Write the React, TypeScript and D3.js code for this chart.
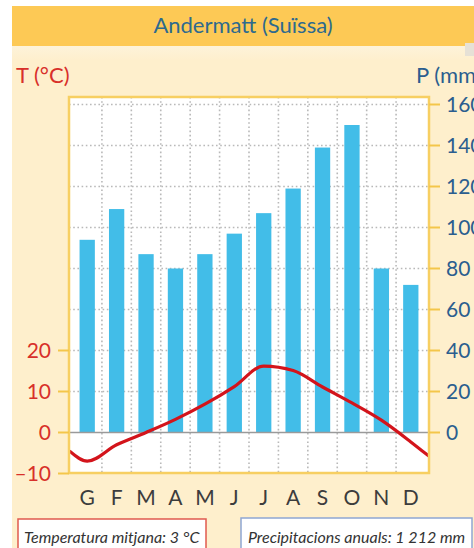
import React from "react";
import * as d3 from "d3";

const months = ["G", "F", "M", "A", "M", "J", "J", "A", "S", "O", "N", "D"];
const precipitation = [94, 109, 87, 80, 87, 97, 107, 119, 139, 150, 80, 72];
const temperature = [-7, -3, 0, 3.2, 6.9, 11.2, 16.2, 15.1, 11.1, 7.2, 3, -2.3];
const tempEdges = [-4.6, -5.6];
const precipTicks = [0, 20, 40, 60, 80, 100, 120, 140, 160];
const tempTicks = [-10, 0, 10, 20];
const title = "Andermatt (Suïssa)";
const tempLegend = "Temperatura mitjana: 3 °C";
const precipLegend = "Precipitacions anuals: 1 212 mm";

const W = 474;
const H = 548;
const plot = { left: 69, right: 429, top: 97, bottom: 473 };
const FONT = "Lato, 'Open Sans', sans-serif";

export default function App() {
  const x = d3
    .scaleBand<number>()
    .domain(months.map((_, i) => i))
    .range([72.5, 425.5])
    .paddingInner(0.48)
    .paddingOuter(0.24);
  const step = x.step();
  const yP = d3.scaleLinear().domain([0, 160]).range([432.5, 104.5]);
  const yT = d3.scaleLinear().domain([-10, 20]).range([473.5, 350.5]);

  const cx = (i: number) => (x(i) as number) + x.bandwidth() / 2;
  const boundaries = months.slice(1).map((_, i) => (x(i) as number) + x.bandwidth() + (step - x.bandwidth()) / 2);

  const pts: [number, number][] = [
    [plot.left + 1, yT(tempEdges[0])],
    ...temperature.map((t, i) => [cx(i), yT(t)] as [number, number]),
    [plot.right - 1, yT(tempEdges[1])],
  ];
  const line = d3.line().curve(d3.curveMonotoneX)(pts) || "";

  const gridColor = "#b9b9b9";
  const tickColor = "#f4c64a";

  return (
    <svg width={W} height={H} style={{ position: "absolute", left: 0, top: 0 }} fontFamily={FONT}>
      <defs>
        <linearGradient id="strip" x1="0" y1="0" x2="0" y2="1">
          <stop offset="0" stopColor="#fdf3da" />
          <stop offset="1" stopColor="#feefcd" />
        </linearGradient>
      </defs>
      <rect x={0} y={0} width={W} height={H} fill="#ffffff" />
      <rect x={12} y={6} width={W - 12} height={H - 6} fill="#feefcc" />
      <rect x={12} y={46} width={W - 12} height={14} fill="url(#strip)" />
      <rect x={12} y={6} width={W - 12} height={40} fill="#fdc955" />
      <rect x={465} y={43} width={9} height={13} fill="#e6e1d6" />
      <text x={243} y={33} textAnchor="middle" fontSize={22} fill="#2e6a8e">
        {title}
      </text>

      <text x={16} y={83} fontSize={22} fill="#d8302a">
        T (°C)
      </text>
      <text x={416} y={83} fontSize={22} fill="#2b5e8f">
        P (mm)
      </text>

      <rect
        x={plot.left}
        y={plot.top}
        width={plot.right - plot.left}
        height={plot.bottom - plot.top}
        fill="#ffffff"
      />

      {precipTicks.slice(1).map((v) => (
        <line
          key={"hg" + v}
          x1={plot.left}
          x2={plot.right}
          y1={yP(v)}
          y2={yP(v)}
          stroke={gridColor}
          strokeWidth={1.6}
          strokeDasharray="1.6 2.6"
        />
      ))}
      {boundaries.map((bx, i) => (
        <line
          key={"vg" + i}
          x1={bx}
          x2={bx}
          y1={plot.top}
          y2={plot.bottom}
          stroke={gridColor}
          strokeWidth={1.6}
          strokeDasharray="1.6 2.6"
        />
      ))}

      {precipitation.map((p, i) => (
        <rect
          key={"b" + i}
          x={x(i)}
          y={yP(p)}
          width={x.bandwidth()}
          height={yP(0) - yP(p)}
          fill="#42bde8"
        />
      ))}

      <line x1={plot.left} x2={plot.right} y1={yP(0)} y2={yP(0)} stroke="#9a9a9a" strokeWidth={1.5} />

      <path d={line} fill="none" stroke="#d3141b" strokeWidth={3.2} strokeLinejoin="round" strokeLinecap="round" />

      <rect
        x={plot.left}
        y={plot.top}
        width={plot.right - plot.left}
        height={plot.bottom - plot.top}
        fill="none"
        stroke="#f7cf62"
        strokeWidth={2.5}
      />

      {tempTicks.map((t) => (
        <g key={"tt" + t}>
          <line x1={58} x2={plot.left} y1={yT(t)} y2={yT(t)} stroke={tickColor} strokeWidth={2} />
          <text x={51} y={yT(t)} dy="0.36em" textAnchor="end" fontSize={21} fill="#d8302a">
            {t < 0 ? "\u2013" + Math.abs(t) : String(t)}
          </text>
        </g>
      ))}
      {precipTicks.map((v) => (
        <g key={"pt" + v}>
          <line x1={plot.right} x2={440} y1={yP(v)} y2={yP(v)} stroke={tickColor} strokeWidth={2} />
          <text x={446} y={yP(v)} dy="0.36em" fontSize={21} fill="#2b5e8f">
            {v}
          </text>
        </g>
      ))}

      {months.map((m, i) => (
        <text key={"m" + i} x={cx(i)} y={505} textAnchor="middle" fontSize={21} fill="#3c3c3c">
          {m}
        </text>
      ))}

      <rect x={18} y={519} width={188} height={40} fill="#ffffff" stroke="#e05a4e" strokeWidth={1.5} />
      <text x={24} y={543} fontSize={16} fontStyle="italic" fill="#333">
        {tempLegend}
      </text>
      <rect x={241} y={518} width={231} height={40} fill="#ffffff" stroke="#8fa6d2" strokeWidth={1.5} />
      <text x={248} y={543} fontSize={16} fontStyle="italic" fill="#333">
        {precipLegend}
      </text>
    </svg>
  );
}
